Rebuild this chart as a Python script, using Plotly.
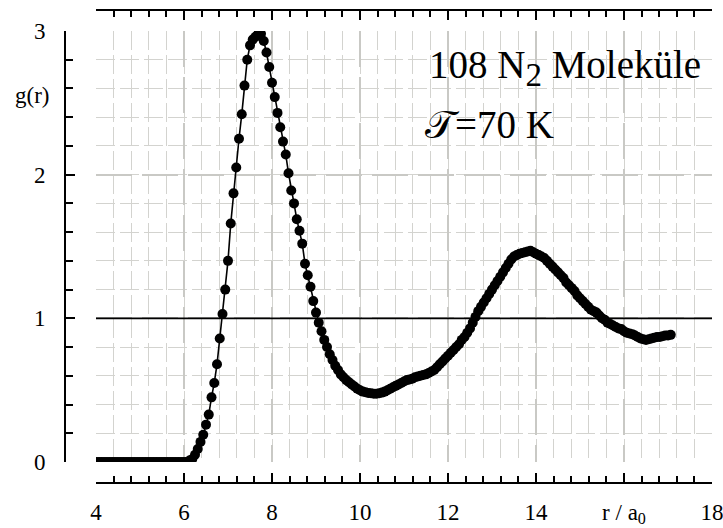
import numpy as np
import plotly.graph_objects as go

# Radial distribution function g(r) of liquid nitrogen (108 N2 molecules, T = 70 K)
# r sampled on a regular grid of bin centres, in units of the Bohr radius a0
r_start = 4.0
r_step = 0.0625

g_values = [
    # r = 4.0000 ... 6.0625  (no pairs at short distance)
    0.0, 0.0, 0.0, 0.0, 0.0, 0.0, 0.0, 0.0, 0.0, 0.0, 0.0, 0.0, 0.0, 0.0, 0.0, 0.0,
    0.0, 0.0, 0.0, 0.0, 0.0, 0.0, 0.0, 0.0, 0.0, 0.0, 0.0, 0.0, 0.0, 0.0, 0.0, 0.0,
    0.0, 0.0,
    # r = 6.125 ... 7.0625
    0.01, 0.02, 0.05, 0.09, 0.14, 0.19, 0.26, 0.33, 0.45, 0.55, 0.68, 0.86, 1.03, 1.20,
    1.40, 1.66,
    # r = 7.125 ... 8.0625  (first peak)
    1.87, 2.05, 2.25, 2.42, 2.62, 2.80, 2.90, 2.94, 2.96, 2.98, 2.98, 2.93, 2.85, 2.75,
    2.64, 2.54,
    # r = 8.125 ... 9.0625
    2.43, 2.33, 2.23, 2.14, 2.01, 1.89, 1.80, 1.69, 1.61, 1.52, 1.38, 1.30, 1.22, 1.12,
    1.04, 0.97,
    # r = 9.125 ... 10.0625
    0.91, 0.85, 0.80, 0.75, 0.71, 0.67, 0.64, 0.61, 0.59, 0.57, 0.555, 0.54, 0.525, 0.51,
    0.50, 0.49,
    # r = 10.125 ... 11.0625  (first minimum)
    0.485, 0.48, 0.478, 0.475, 0.475, 0.478, 0.483, 0.49, 0.50, 0.51, 0.52, 0.53, 0.54,
    0.55, 0.56, 0.57,
    # r = 11.125 ... 12.0625
    0.575, 0.58, 0.59, 0.595, 0.60, 0.605, 0.61, 0.62, 0.63, 0.64, 0.66, 0.68, 0.70,
    0.72, 0.74, 0.76,
    # r = 12.125 ... 13.0625
    0.78, 0.80, 0.82, 0.85, 0.87, 0.90, 0.93, 0.97, 1.01, 1.05, 1.08, 1.11, 1.14, 1.17,
    1.20, 1.23,
    # r = 13.125 ... 14.0625  (second peak)
    1.26, 1.29, 1.32, 1.35, 1.38, 1.41, 1.43, 1.44, 1.45, 1.455, 1.46, 1.465, 1.47, 1.46,
    1.45, 1.44,
    # r = 14.125 ... 15.0625
    1.43, 1.42, 1.40, 1.38, 1.36, 1.34, 1.32, 1.30, 1.28, 1.25, 1.23, 1.21, 1.19, 1.16,
    1.14, 1.12,
    # r = 15.125 ... 16.0625
    1.10, 1.08, 1.06, 1.05, 1.04, 1.02, 1.00, 0.99, 0.97, 0.96, 0.95, 0.94, 0.93, 0.925,
    0.91, 0.90,
    # r = 16.125 ... 17.0625
    0.895, 0.89, 0.88, 0.87, 0.86, 0.855, 0.85, 0.855, 0.86, 0.865, 0.87, 0.87, 0.875,
    0.88, 0.88, 0.885,
]
r_values = r_start + r_step * np.arange(len(g_values))

x_tick_vals = [4, 6, 8, 10, 12, 14, 16, 18]
x_tick_text = ["4", "6", "8", "10", "12", "14", "r / a<sub>0</sub>", "18"]
y_tick_vals = [0, 1, 2, 3]
y_tick_text = ["0", "1", "2", "3"]

W, H = 723, 528
FONT = "Liberation Serif, Times New Roman, serif"
MAJOR_GRID = "#c9c9c5"
MINOR_GRID = "#d3d3cf"

# plot area and detached axis lines, in pixels
px_left, px_right = 96, 712
px_top, px_bottom = 31, 462
y_axis_x = 65
x_axis_y = 483
top_axis_y = 10

xdom = [px_left / W, px_right / W]
ydom = [1 - px_bottom / H, 1 - px_top / H]

fig = go.Figure()

fig.add_trace(go.Scatter(
    x=r_values, y=g_values, mode="lines+markers",
    line=dict(color="black", width=1.6),
    marker=dict(color="black", size=10),
    hoverinfo="skip", showlegend=False,
))
# empty trace so the mirrored top axis gets drawn
fig.add_trace(go.Scatter(x=[None], y=[None], xaxis="x2", showlegend=False,
                         hoverinfo="skip"))

fig.add_hline(y=1, line=dict(color="black", width=1.6))

axis_common = dict(
    showline=True, linecolor="black", linewidth=2,
    ticks="inside", tickcolor="black", tickwidth=2, ticklen=9,
    zeroline=False, ticklabeloverflow="allow",
    tickfont=dict(family=FONT, size=23, color="black"),
)

fig.update_layout(
    width=W, height=H,
    margin=dict(l=0, r=0, t=0, b=0, autoexpand=False),
    paper_bgcolor="white", plot_bgcolor="white",
    showlegend=False,
    xaxis=dict(
        domain=xdom, range=[4, 18], anchor="free", position=1 - x_axis_y / H,
        tickmode="array", tickvals=x_tick_vals, ticktext=x_tick_text,
        showgrid=True, gridcolor=MAJOR_GRID, gridwidth=2, griddash="36px,10px",
        minor=dict(dtick=0.4, tick0=4, ticks="inside", ticklen=6, tickwidth=1.5,
                   tickcolor="black", showgrid=True, gridcolor=MINOR_GRID,
                   gridwidth=1, griddash="19px,5px"),
        ticklabelstandoff=8,
        **axis_common,
    ),
    xaxis2=dict(
        domain=xdom, range=[4, 18], overlaying="x", side="top",
        anchor="free", position=1 - top_axis_y / H,
        tickmode="array", tickvals=x_tick_vals, showticklabels=False,
        showgrid=False,
        minor=dict(dtick=0.4, tick0=4, ticks="inside", ticklen=6, tickwidth=1.5,
                   tickcolor="black", showgrid=False),
        **axis_common,
    ),
    yaxis=dict(
        domain=ydom, range=[0, 3], anchor="free", position=y_axis_x / W,
        tickmode="array", tickvals=y_tick_vals, ticktext=y_tick_text,
        showgrid=True, gridcolor=MAJOR_GRID, gridwidth=2, griddash="36px,10px",
        minor=dict(dtick=0.2, tick0=0, ticks="inside", ticklen=7, tickwidth=1.5,
                   tickcolor="black", showgrid=True, gridcolor=MINOR_GRID,
                   gridwidth=1, griddash="19px,5px"),
        ticklabelstandoff=14,
        **axis_common,
    ),
)

fig.add_annotation(
    text="g(r)", xref="paper", yref="y", x=32 / W, y=2.55,
    xanchor="center", yanchor="middle", showarrow=False,
    font=dict(family=FONT, size=23, color="black"),
)
fig.add_annotation(
    text='108 N<sub><span style="font-size:33px">2</span></sub> Moleküle',
    xref="paper", yref="paper",
    x=427 / W, y=1 - 68 / H, xanchor="left", yanchor="middle", showarrow=False,
    font=dict(family=FONT, size=39, color="black"),
)
fig.add_annotation(
    text="\U0001D4AF=70 K", xref="paper", yref="paper",
    x=423 / W, y=1 - 124 / H, xanchor="left", yanchor="middle", showarrow=False,
    font=dict(family=FONT, size=39, color="black"),
)

fig.write_html("out.html")
